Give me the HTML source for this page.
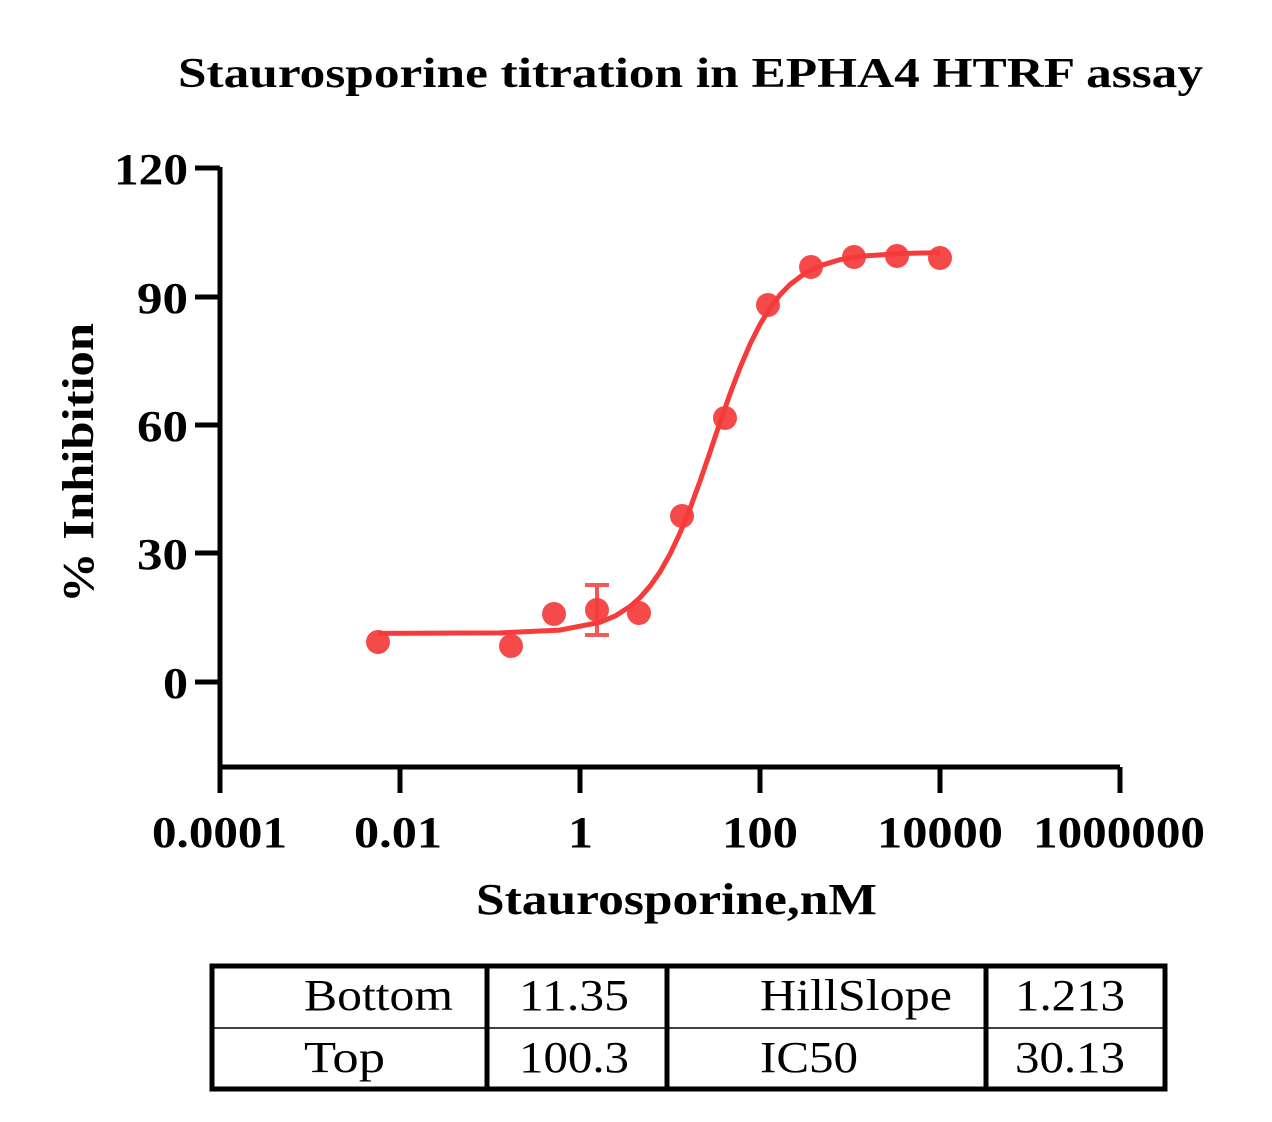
<!DOCTYPE html>
<html><head><meta charset="utf-8"><style>
html,body{margin:0;padding:0;background:#fff;}
svg{display:block;}
text{font-family:"Liberation Serif",serif;}
</style></head><body>
<svg width="1272" height="1122" viewBox="0 0 1272 1122" xmlns="http://www.w3.org/2000/svg">
<text x="178" y="87" font-size="42" font-weight="bold" textLength="1025" lengthAdjust="spacingAndGlyphs">Staurosporine titration in EPHA4 HTRF assay</text>
<g stroke="#000" stroke-width="5" fill="none">
<path d="M220,167 V767 H1120"/>
<path d="M195,168H220M195,297H220M195,425H220M195,553H220M195,682H220"/>
<path d="M220,767V793M400,767V793M580,767V793M760,767V793M940,767V793M1120,767V793"/>
</g>
<g font-size="44" font-weight="bold" lengthAdjust="spacingAndGlyphs">
<text x="114" y="184" textLength="74" lengthAdjust="spacingAndGlyphs">120</text>
<text x="137" y="313" textLength="51" lengthAdjust="spacingAndGlyphs">90</text>
<text x="137" y="441" textLength="51" lengthAdjust="spacingAndGlyphs">60</text>
<text x="137" y="569" textLength="51" lengthAdjust="spacingAndGlyphs">30</text>
<text x="163" y="698" textLength="25" lengthAdjust="spacingAndGlyphs">0</text>
<text x="152" y="847" textLength="135" lengthAdjust="spacingAndGlyphs">0.0001</text>
<text x="354" y="847" textLength="88" lengthAdjust="spacingAndGlyphs">0.01</text>
<text x="568" y="847" textLength="25" lengthAdjust="spacingAndGlyphs">1</text>
<text x="722" y="847" textLength="76" lengthAdjust="spacingAndGlyphs">100</text>
<text x="877" y="847" textLength="126" lengthAdjust="spacingAndGlyphs">10000</text>
<text x="1033" y="847" textLength="172" lengthAdjust="spacingAndGlyphs">1000000</text>
<text x="476" y="914" textLength="401" lengthAdjust="spacingAndGlyphs">Staurosporine,nM</text>
<text transform="translate(93,603) rotate(-90)" textLength="280" lengthAdjust="spacingAndGlyphs">% Inhibition</text>
</g>
<path fill="none" stroke="#f53b3b" stroke-width="5" stroke-linejoin="round" d="M378,633.4 L500,632.9 L560,630.1 L600,622.3 L615,616.1 L630,606.5 L640,597.7 L650,586.2 L660,571.9 L670,554.2 L680,532.9 L690,508.5 L700,481.2 L710,452.2 L720,422.4 L730,394 L740,367.7 L750,344.3 L760,324.4 L770,308 L780,294.9 L790,284.5 L805,273.2 L820,265.7 L840,259.7 L860,256.3 L900,253.5 L940,252.6"/>
<g stroke="#f53b3b" stroke-width="4" opacity="0.85">
<path d="M597,585V635M585,585H609M585,635H609"/>
</g>
<g fill="#f53b3b" fill-opacity="0.92">
<circle cx="378" cy="642" r="12"/>
<circle cx="511" cy="646" r="12"/>
<circle cx="554" cy="614" r="12"/>
<circle cx="597" cy="610" r="12"/>
<circle cx="639" cy="613" r="12"/>
<circle cx="682" cy="516" r="12"/>
<circle cx="725" cy="418" r="12"/>
<circle cx="768" cy="305" r="12"/>
<circle cx="811" cy="267" r="12"/>
<circle cx="854" cy="257" r="12"/>
<circle cx="897" cy="256" r="12"/>
<circle cx="940" cy="258" r="12"/>
</g>
<g stroke="#000" fill="none">
<rect x="212" y="966" width="953" height="123" stroke-width="5"/>
<path d="M487,966V1089M667,966V1089M986,966V1089" stroke-width="5"/>
<path d="M212,1028H1165" stroke-width="1.5"/>
</g>
<g font-size="44">
<text x="304" y="1010" textLength="149" lengthAdjust="spacingAndGlyphs">Bottom</text>
<text x="304" y="1072" textLength="81" lengthAdjust="spacingAndGlyphs">Top</text>
<text x="519" y="1010" textLength="110" lengthAdjust="spacingAndGlyphs">11.35</text>
<text x="519" y="1072" textLength="110" lengthAdjust="spacingAndGlyphs">100.3</text>
<text x="760" y="1010" textLength="192" lengthAdjust="spacingAndGlyphs">HillSlope</text>
<text x="760" y="1072" textLength="98" lengthAdjust="spacingAndGlyphs">IC50</text>
<text x="1015" y="1010" textLength="110" lengthAdjust="spacingAndGlyphs">1.213</text>
<text x="1015" y="1072" textLength="110" lengthAdjust="spacingAndGlyphs">30.13</text>
</g>
</svg>
</body></html>
